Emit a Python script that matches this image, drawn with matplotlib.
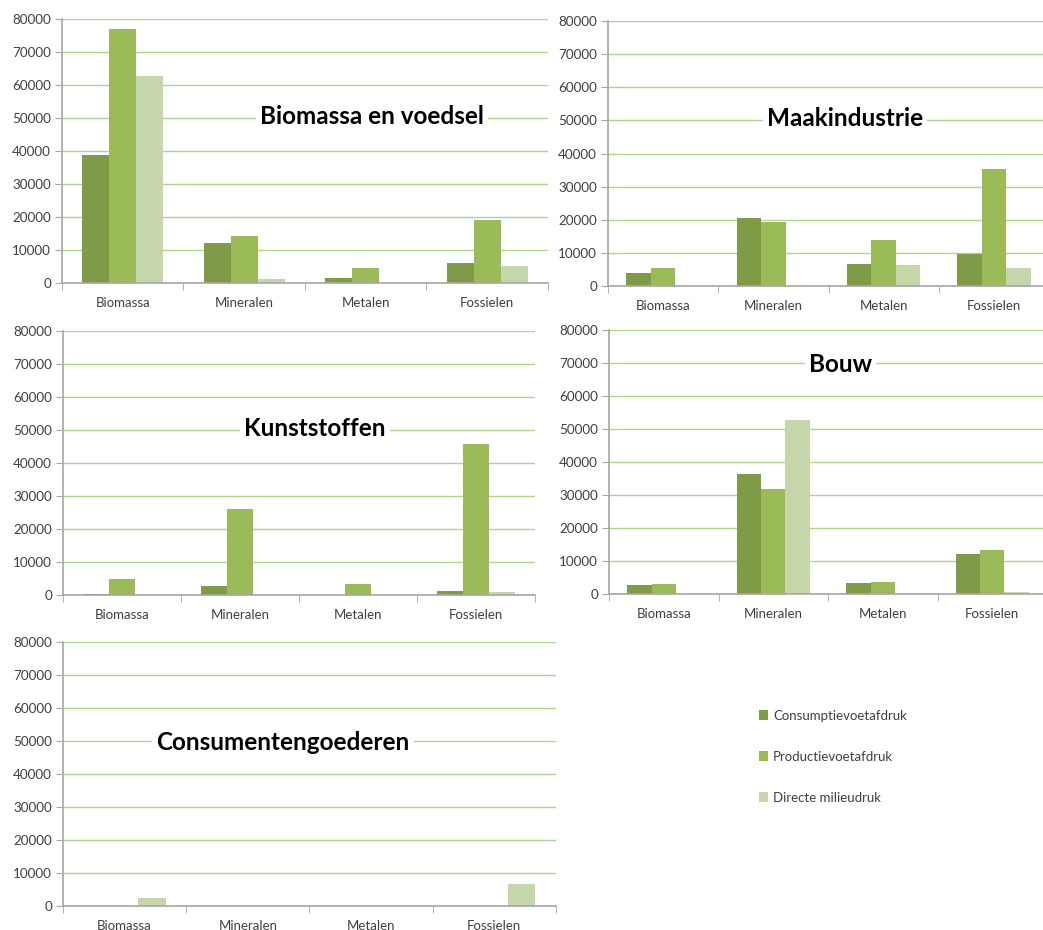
import matplotlib.pyplot as plt
import numpy as np
from matplotlib.patches import Patch

# data (values per material category)
categories = ["Biomassa", "Mineralen", "Metalen", "Fossielen"]
series_names = ["Consumptievoetafdruk", "Productievoetafdruk", "Directe milieudruk"]
colors = ["#7F9B48", "#9BBB59", "#C5D6AB"]

biomassa_voedsel_cons = [38800, 12000, 1600, 6100]
biomassa_voedsel_prod = [77000, 14100, 4500, 19100]
biomassa_voedsel_dir = [62800, 1200, 0, 5300]

maakindustrie_cons = [3900, 20400, 6600, 9600]
maakindustrie_prod = [5400, 19200, 14000, 35300]
maakindustrie_dir = [0, 0, 6300, 5500]

kunststoffen_cons = [300, 2800, 0, 1100]
kunststoffen_prod = [4800, 26100, 3400, 45800]
kunststoffen_dir = [0, 0, 0, 900]

bouw_cons = [2800, 36500, 3300, 12100]
bouw_prod = [3100, 31700, 3700, 13300]
bouw_dir = [0, 52700, 0, 700]

consumenten_cons = [0, 0, 0, 0]
consumenten_prod = [0, 0, 0, 0]
consumenten_dir = [2400, 0, 0, 6700]

W, H = 1043, 930
plt.rcParams["font.family"] = ["Lato", "DejaVu Sans"]
fig = plt.figure(figsize=(W / 100, H / 100), dpi=100)


def px_axes(left, right, top, bottom):
    return fig.add_axes([left / W, 1 - bottom / H, (right - left) / W, (bottom - top) / H])


panels = [
    ("Biomassa en voedsel", (62, 548, 19, 283), (0.638, 0.632),
     [biomassa_voedsel_cons, biomassa_voedsel_prod, biomassa_voedsel_dir]),
    ("Maakindustrie", (608, 1049, 21, 286), (0.537, 0.632),
     [maakindustrie_cons, maakindustrie_prod, maakindustrie_dir]),
    ("Kunststoffen", (63, 535, 331, 595), (0.534, 0.632),
     [kunststoffen_cons, kunststoffen_prod, kunststoffen_dir]),
    ("Bouw", (609, 1047, 330, 594), (0.529, 0.87),
     [bouw_cons, bouw_prod, bouw_dir]),
    ("Consumentengoederen", (63, 556, 642, 906), (0.446, 0.62),
     [consumenten_cons, consumenten_prod, consumenten_dir]),
]

x = np.arange(len(categories))
bw = 1 / 4.5  # three bars plus a 150% gap
grid_c = "#B0D68E"
axis_c = "#A6A6A6"

for title, box, tpos, vals in panels:
    ax = px_axes(*box)
    for i, v in enumerate(vals):
        ax.bar(x + (i - 1) * bw, v, width=bw, color=colors[i], edgecolor="none", zorder=3)
    ax.set_xlim(-0.5, len(categories) - 0.5)
    ax.set_ylim(0, 80000)
    ax.set_yticks(np.arange(0, 80001, 10000))
    ax.set_yticklabels([str(v) for v in range(0, 80001, 10000)])
    ax.set_xticks(x)
    ax.set_xticklabels(categories)
    ax.set_xticks(np.arange(-0.5, len(categories), 1), minor=True)
    ax.tick_params(axis="x", which="major", length=0, pad=10, labelsize=9.5, labelcolor="#404040")
    ax.tick_params(axis="x", which="minor", length=5, color=axis_c, direction="out")
    ax.tick_params(axis="y", length=5, color=axis_c, pad=3, labelsize=9.7, labelcolor="#404040")
    ax.yaxis.grid(True, color=grid_c, linewidth=1)
    ax.set_axisbelow(True)
    for s in ("top", "right"):
        ax.spines[s].set_visible(False)
    for s in ("left", "bottom"):
        ax.spines[s].set_color(axis_c)
        ax.spines[s].set_linewidth(1.2)
    ax.spines["bottom"].set_zorder(4)
    ax.text(tpos[0], tpos[1], title, transform=ax.transAxes, ha="center", va="center",
            fontsize=17.5, fontweight="bold", color="black", zorder=5,
            bbox=dict(facecolor="white", edgecolor="none", pad=3))

handles = [Patch(facecolor=c, edgecolor="none") for c in colors]
fig.legend(handles, series_names, loc="upper left", bbox_to_anchor=(752 / W, 1 - 703 / H),
           frameon=False, fontsize=9.5, labelspacing=2.2, handlelength=0.7, handleheight=0.7,
           handletextpad=0.4, borderpad=0, labelcolor="#404040")

fig.savefig("out.png", dpi=100)
